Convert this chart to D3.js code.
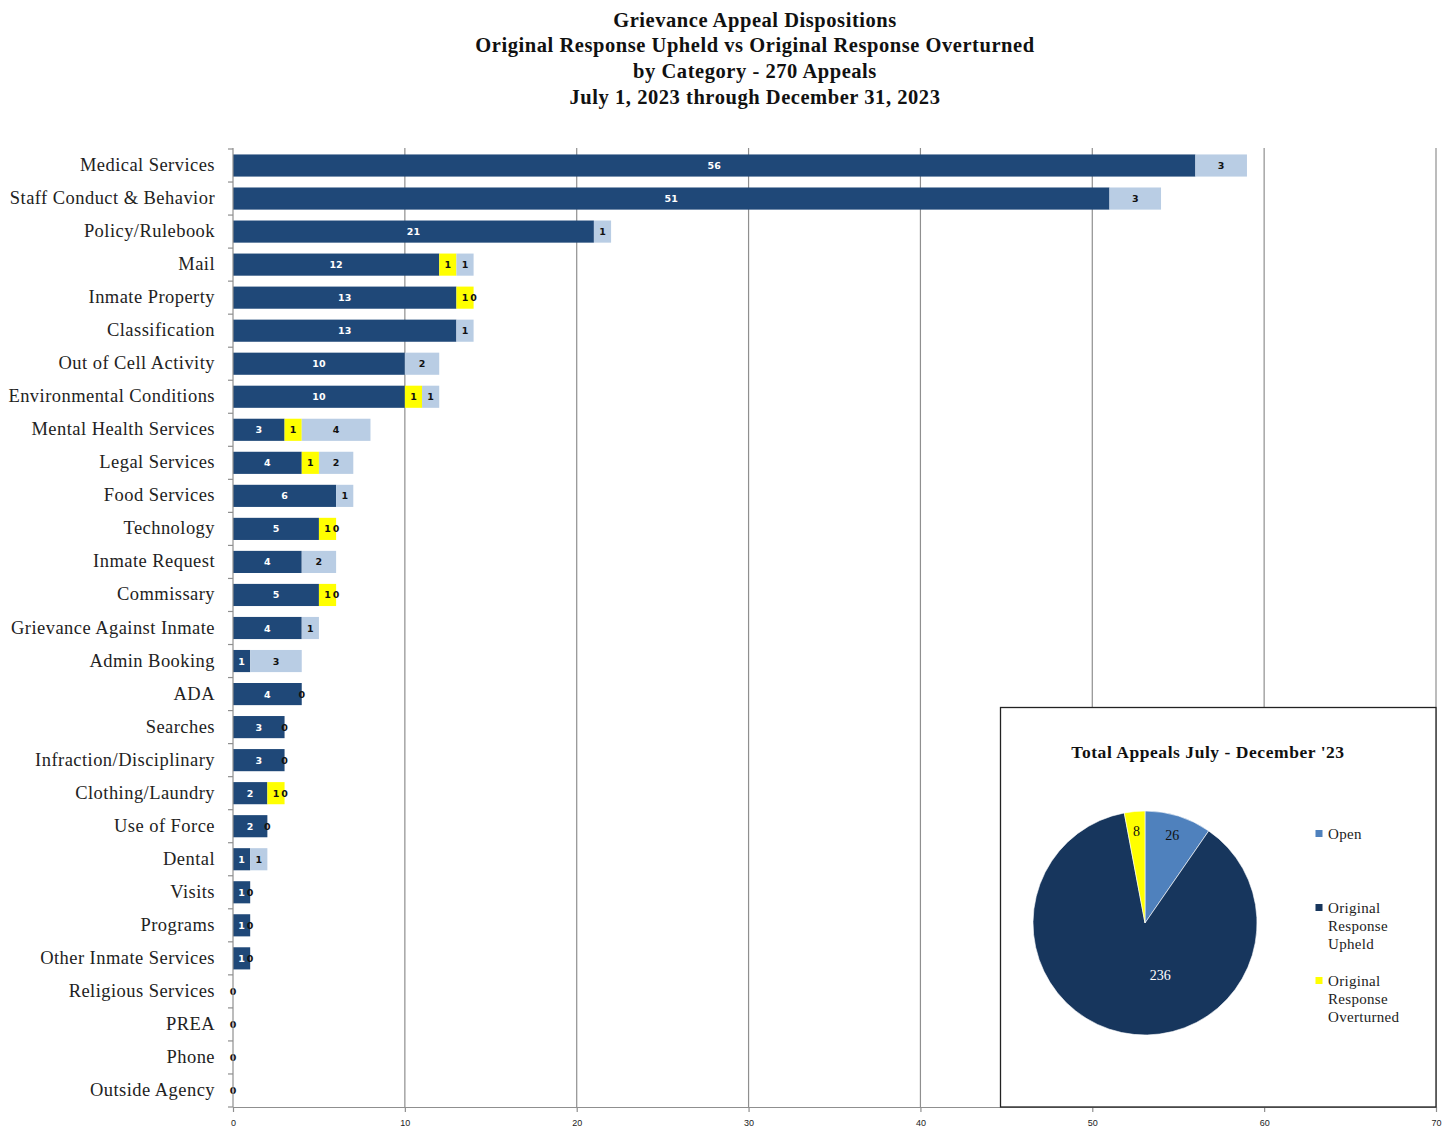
<!DOCTYPE html>
<html>
<head>
<meta charset="utf-8">
<script src="https://cdn.jsdelivr.net/npm/d3@7"></script>
<style>
  html, body { margin: 0; padding: 0; background: #fff; }
  svg { display: block; }
</style>
</head>
<body>
<svg id="chart" width="1452" height="1128"></svg>
<script>
// Appeal dispositions by category (null = no value entered for that cell)
const categories = [
  "Medical Services", "Staff Conduct & Behavior", "Policy/Rulebook", "Mail",
  "Inmate Property", "Classification", "Out of Cell Activity", "Environmental Conditions",
  "Mental Health Services", "Legal Services", "Food Services", "Technology",
  "Inmate Request", "Commissary", "Grievance Against Inmate", "Admin Booking",
  "ADA", "Searches", "Infraction/Disciplinary", "Clothing/Laundry",
  "Use of Force", "Dental", "Visits", "Programs",
  "Other Inmate Services", "Religious Services", "PREA", "Phone", "Outside Agency"
];
const upheld = [56, 51, 21, 12, 13, 13, 10, 10, 3, 4, 6, 5, 4, 5, 4, 1, 4, 3, 3, 2, 2, 1, 1, 1, 1, null, null, null, null];
const overturned = [null, null, null, 1, 1, null, null, 1, 1, 1, null, 1, null, 1, null, null, null, null, null, 1, null, null, null, null, null, null, null, null, null];
const openCount = [3, 3, 1, 1, 0, 1, 2, 1, 4, 2, 1, 0, 2, 0, 1, 3, 0, 0, 0, 0, 0, 1, 0, 0, 0, 0, 0, 0, 0];
const xTicks = [0, 10, 20, 30, 40, 50, 60, 70];

const titleLines = [
  "Grievance Appeal Dispositions",
  "Original Response Upheld vs Original Response Overturned",
  "by Category - 270 Appeals",
  "July 1, 2023 through December 31, 2023"
];

// Pie of totals
const pieTitle = "Total Appeals July - December '23";
const pieNames = ["Open", "Original Response Upheld", "Original Response Overturned"];
const pieLegendLines = [["Open"], ["Original", "Response", "Upheld"], ["Original", "Response", "Overturned"]];
const pieValues = [26, 236, 8];

const svg = d3.select("#chart");
const serif = "'Liberation Serif', 'Times New Roman', serif";

// ---- title
svg.append("g").selectAll("text").data(titleLines).join("text")
  .attr("x", 755).attr("y", (d, i) => 26.5 + i * 25.8)
  .attr("text-anchor", "middle")
  .attr("font-family", serif).attr("font-weight", "bold").attr("font-size", 20.5)
  .attr("letter-spacing", 0.55)
  .attr("fill", "#111").text(d => d);

// ---- bar chart
const plotLeft = 233, plotRight = 1436, plotTop = 149, plotBottom = 1107;
const x = d3.scaleLinear().domain([0, 70]).range([plotLeft, plotRight]);
const y = d3.scaleBand().domain(categories).range([plotTop, plotBottom]).paddingInner(0.33).paddingOuter(0.165);

const seriesKeys = ["upheld", "overturned", "open"];
const raw = { upheld, overturned, open: openCount };
const colors = { upheld: "#1f4878", overturned: "#ffff00", open: "#b9cde4" };
const labelColors = { upheld: "#ffffff", overturned: "#111", open: "#111" };

const rows = categories.map((c, i) => ({
  category: c,
  upheld: upheld[i] ?? 0,
  overturned: overturned[i] ?? 0,
  open: openCount[i] ?? 0
}));
const stacked = d3.stack().keys(seriesKeys)(rows);

// gridlines
svg.append("g").selectAll("line").data(xTicks.filter(t => t > 0)).join("line")
  .attr("x1", d => x(d)).attr("x2", d => x(d))
  .attr("y1", plotTop - 1).attr("y2", plotBottom)
  .attr("stroke", "#8f8f8f").attr("stroke-width", 1.2);

// bars
const barG = svg.append("g");
stacked.forEach(layer => {
  barG.append("g").selectAll("rect").data(layer).join("rect")
    .attr("x", d => x(d[0]))
    .attr("y", d => y(d.data.category))
    .attr("width", d => x(d[1]) - x(d[0]))
    .attr("height", y.bandwidth())
    .attr("fill", colors[layer.key]);
});

// segment value labels
const labelG = svg.append("g");
stacked.forEach(layer => {
  const vals = raw[layer.key];
  labelG.append("g").selectAll("text")
    .data(layer.filter((d, i) => vals[i] !== null))
    .join("text")
    .attr("x", d => (x(d[0]) + x(d[1])) / 2)
    .attr("y", d => y(d.data.category) + y.bandwidth() / 2 + 3.5)
    .attr("text-anchor", "middle")
    .attr("font-family", "'DejaVu Sans', Verdana, sans-serif")
    .attr("font-weight", "bold").attr("font-size", 9.5)
    .attr("fill", labelColors[layer.key])
    .text(d => d[1] - d[0]);
});

// y axis line + ticks at category boundaries
const step = y.step();
const gap = step - y.bandwidth();
svg.append("line").attr("x1", plotLeft).attr("x2", plotLeft).attr("y1", plotTop - 1).attr("y2", plotBottom)
  .attr("stroke", "#8f8f8f").attr("stroke-width", 1.2);
svg.append("g").selectAll("line")
  .data(categories.map(c => y(c) - gap / 2).concat([y(categories[categories.length - 1]) + y.bandwidth() + gap / 2]))
  .join("line")
  .attr("x1", plotLeft - 5).attr("x2", plotLeft).attr("y1", d => d).attr("y2", d => d)
  .attr("stroke", "#8f8f8f").attr("stroke-width", 1.2);

// category labels
svg.append("g").selectAll("text").data(categories).join("text")
  .attr("x", 215)
  .attr("y", d => y(d) + y.bandwidth() / 2 + 5.5)
  .attr("text-anchor", "end")
  .attr("font-family", serif).attr("font-size", 18.5)
  .attr("letter-spacing", 0.45)
  .attr("fill", "#222").text(d => d);

// x axis
const xAxis = svg.append("g").attr("transform", `translate(0,${plotBottom})`)
  .call(d3.axisBottom(x).tickValues(xTicks).tickSize(5).tickPadding(8).tickSizeOuter(0));
xAxis.select(".domain").attr("stroke", "#8f8f8f").attr("stroke-width", 1.2);
xAxis.selectAll(".tick line").attr("stroke", "#8f8f8f").attr("stroke-width", 1.2);
xAxis.selectAll(".tick text")
  .attr("font-family", "'Liberation Sans Narrow', 'Liberation Sans', Arial, sans-serif")
  .attr("font-size", 9).attr("fill", "#222");

// ---- inset pie chart
const box = { x: 1000.5, y: 707.5, w: 435.5, h: 399.5 };
svg.append("rect").attr("x", box.x).attr("y", box.y).attr("width", box.w).attr("height", box.h)
  .attr("fill", "#fff").attr("stroke", "#222").attr("stroke-width", 1.3);

svg.append("text").attr("x", 1208).attr("y", 758).attr("text-anchor", "middle")
  .attr("font-family", serif).attr("font-weight", "bold").attr("font-size", 17.5)
  .attr("letter-spacing", 0.55)
  .attr("fill", "#111").text(pieTitle);

const pieColors = ["#4f81bd", "#17365d", "#ffff00"];
const labelFill = ["#111", "#ffffff", "#111"];
const cx = 1145, cy = 923, r = 112;
const arcs = d3.pie().sort(null).value(d => d)(pieValues);
const arc = d3.arc().innerRadius(0).outerRadius(r);
const pg = svg.append("g").attr("transform", `translate(${cx},${cy})`);
pg.selectAll("path").data(arcs).join("path")
  .attr("d", arc).attr("fill", (d, i) => pieColors[i])
  .attr("stroke", "#fff").attr("stroke-width", 0.6);

const outerLabelArc = d3.arc().innerRadius(r * 0.82).outerRadius(r * 0.82);
const innerLabelArc = d3.arc().innerRadius(r * 0.5).outerRadius(r * 0.5);
pg.selectAll("text").data(arcs).join("text")
  .attr("transform", d => {
    const big = (d.endAngle - d.startAngle) > Math.PI;
    const [px, py] = (big ? innerLabelArc : outerLabelArc).centroid(d);
    return `translate(${big ? px + 27 : px},${big ? py - 3 : py})`;
  })
  .attr("text-anchor", "middle").attr("dy", "0.35em")
  .attr("font-family", serif).attr("font-size", 14)
  .attr("fill", (d, i) => labelFill[i])
  .text(d => d.value);

// legend
const legendY = [834, 908, 981];
const lg = svg.append("g");
pieNames.forEach((name, i) => {
  lg.append("rect").attr("x", 1315.5).attr("y", legendY[i] - 4).attr("width", 7).attr("height", 7)
    .attr("fill", pieColors[i]);
  const t = lg.append("text").attr("x", 1328).attr("y", legendY[i] + 4.5)
    .attr("font-family", serif).attr("font-size", 15).attr("letter-spacing", 0.3).attr("fill", "#222");
  pieLegendLines[i].forEach((line, j) => {
    t.append("tspan").attr("x", 1328).attr("dy", j === 0 ? 0 : 18).text(line);
  });
});
</script>
</body>
</html>
